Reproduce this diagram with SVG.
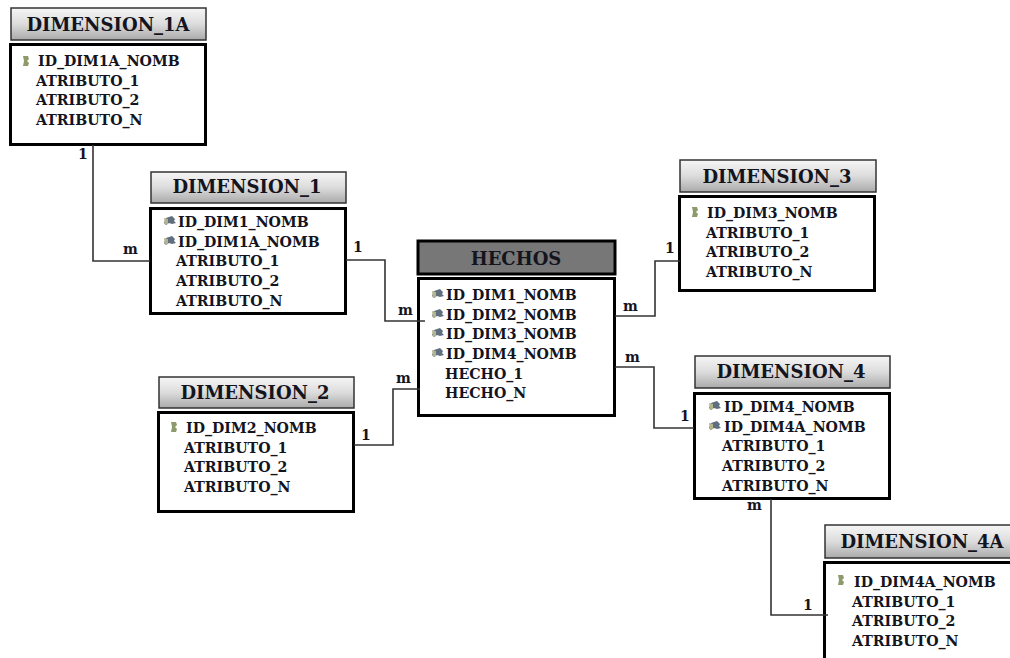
<svg xmlns="http://www.w3.org/2000/svg" width="1010" height="658" viewBox="0 0 1010 658">
<defs>
<linearGradient id="hg" x1="0" y1="0" x2="0" y2="1"><stop offset="0" stop-color="#f6f6f6"/><stop offset="0.5" stop-color="#dcdcdc"/><stop offset="1" stop-color="#aaa"/></linearGradient>
<g id="fk"><path d="M-2 -3 L4 -5 L7 -2 L6 0 L8 2 L4 3 L1 2 L-2 4 L-4 2Z" fill="#5f6f80"/><path d="M-4 -3 L0 -2 L0 3 L-3 4Z" fill="#b3b38c"/></g>
<g id="pk"><path d="M-3 -5 H2 L3 -2 L1 0 L3 2 L2 5 H-3 L-2 0Z" fill="#8f9a6a"/></g>
</defs>
<style>
text{font-family:"DejaVu Serif","Liberation Serif",serif;font-weight:700;fill:#14141e}
.h{fill:url(#hg);stroke:#333;stroke-width:1.5}
.b{fill:#fff;stroke:#000;stroke-width:3}
.t{font-size:18px;text-anchor:middle}
.a{font-size:14.200px}
.c{font-size:14px}
.l{fill:none;stroke:#333;stroke-width:1.6}
</style>
<rect width="1010" height="658" fill="#fff"/>
<g id="dimension_1a">
<rect class="h" x="11" y="8" width="195" height="32"/>
<rect class="b" x="10.500" y="44.500" width="195" height="100"/>
<text class="t" x="108" y="31">DIMENSION_1A</text>
<use href="#pk" x="26" y="61"/>
<text class="a" x="38" y="66">ID_DIM1A_NOMB</text>
<text class="a" x="36" y="86">ATRIBUTO_1</text>
<text class="a" x="36" y="105">ATRIBUTO_2</text>
<text class="a" x="36" y="125">ATRIBUTO_N</text>
</g>
<g id="dimension_1">
<rect class="h" x="151" y="172" width="195" height="31"/>
<rect class="b" x="150.500" y="208.500" width="195" height="105"/>
<text class="t" x="247" y="193">DIMENSION_1</text>
<use href="#fk" x="168" y="221"/>
<use href="#fk" x="168" y="241"/>
<text class="a" x="178" y="227">ID_DIM1_NOMB</text>
<text class="a" x="178" y="247">ID_DIM1A_NOMB</text>
<text class="a" x="176" y="266">ATRIBUTO_1</text>
<text class="a" x="176" y="286">ATRIBUTO_2</text>
<text class="a" x="176" y="306">ATRIBUTO_N</text>
</g>
<g id="hechos">
<rect x="418" y="241" width="197" height="33" fill="#777" stroke="#000" stroke-width="3"/>
<rect class="b" x="418.500" y="278.500" width="196" height="137"/>
<text class="t" x="516" y="265">HECHOS</text>
<use href="#fk" x="436" y="294"/>
<use href="#fk" x="436" y="314"/>
<use href="#fk" x="436" y="333"/>
<use href="#fk" x="436" y="353"/>
<text class="a" x="446" y="300">ID_DIM1_NOMB</text>
<text class="a" x="446" y="320">ID_DIM2_NOMB</text>
<text class="a" x="446" y="339">ID_DIM3_NOMB</text>
<text class="a" x="446" y="359">ID_DIM4_NOMB</text>
<text class="a" x="445" y="379">HECHO_1</text>
<text class="a" x="445" y="398">HECHO_N</text>
</g>
<g id="dimension_3">
<rect class="h" x="680" y="160" width="196" height="32"/>
<rect class="b" x="679.500" y="196.500" width="195" height="94"/>
<text class="t" x="777" y="183">DIMENSION_3</text>
<use href="#pk" x="695" y="212"/>
<text class="a" x="707" y="218">ID_DIM3_NOMB</text>
<text class="a" x="706" y="238">ATRIBUTO_1</text>
<text class="a" x="706" y="257">ATRIBUTO_2</text>
<text class="a" x="706" y="277">ATRIBUTO_N</text>
</g>
<g id="dimension_2">
<rect class="h" x="159" y="377" width="195" height="31"/>
<rect class="b" x="158.500" y="412.500" width="195" height="99"/>
<text class="t" x="255" y="399">DIMENSION_2</text>
<use href="#pk" x="174" y="427"/>
<text class="a" x="186" y="433">ID_DIM2_NOMB</text>
<text class="a" x="184" y="453">ATRIBUTO_1</text>
<text class="a" x="184" y="472">ATRIBUTO_2</text>
<text class="a" x="184" y="492">ATRIBUTO_N</text>
</g>
<g id="dimension_4">
<rect class="h" x="695" y="356" width="195" height="32"/>
<rect class="b" x="694.500" y="393.500" width="195" height="105"/>
<text class="t" x="791" y="378">DIMENSION_4</text>
<use href="#fk" x="713" y="406"/>
<use href="#fk" x="713" y="426"/>
<text class="a" x="724" y="412">ID_DIM4_NOMB</text>
<text class="a" x="724" y="432">ID_DIM4A_NOMB</text>
<text class="a" x="722" y="451">ATRIBUTO_1</text>
<text class="a" x="722" y="471">ATRIBUTO_2</text>
<text class="a" x="722" y="491">ATRIBUTO_N</text>
</g>
<g id="dimension_4a">
<rect class="h" x="825" y="525" width="195" height="33"/>
<rect class="b" x="824.500" y="562.500" width="195" height="110"/>
<text class="t" x="922" y="548">DIMENSION_4A</text>
<use href="#pk" x="841" y="580"/>
<text class="a" x="854" y="587">ID_DIM4A_NOMB</text>
<text class="a" x="852" y="607">ATRIBUTO_1</text>
<text class="a" x="852" y="626">ATRIBUTO_2</text>
<text class="a" x="852" y="646">ATRIBUTO_N</text>
</g>
<g id="connectors">
<path class="l" d="M93 145V261H150"/>
<path class="l" d="M346 260H385V321H425"/>
<path class="l" d="M354 445H393V389H420"/>
<path class="l" d="M615 316H655V261H680"/>
<path class="l" d="M615 367H654V428H694"/>
<path class="l" d="M771 499V615H828"/>
<text class="c" x="78" y="159">1</text>
<text class="c" x="123" y="254">m</text>
<text class="c" x="353" y="252">1</text>
<text class="c" x="398" y="315">m</text>
<text class="c" x="361" y="440">1</text>
<text class="c" x="396" y="383">m</text>
<text class="c" x="623" y="311">m</text>
<text class="c" x="665" y="253">1</text>
<text class="c" x="625" y="362">m</text>
<text class="c" x="680" y="421">1</text>
<text class="c" x="747" y="510">m</text>
<text class="c" x="803" y="610">1</text>
</g>
</svg>
